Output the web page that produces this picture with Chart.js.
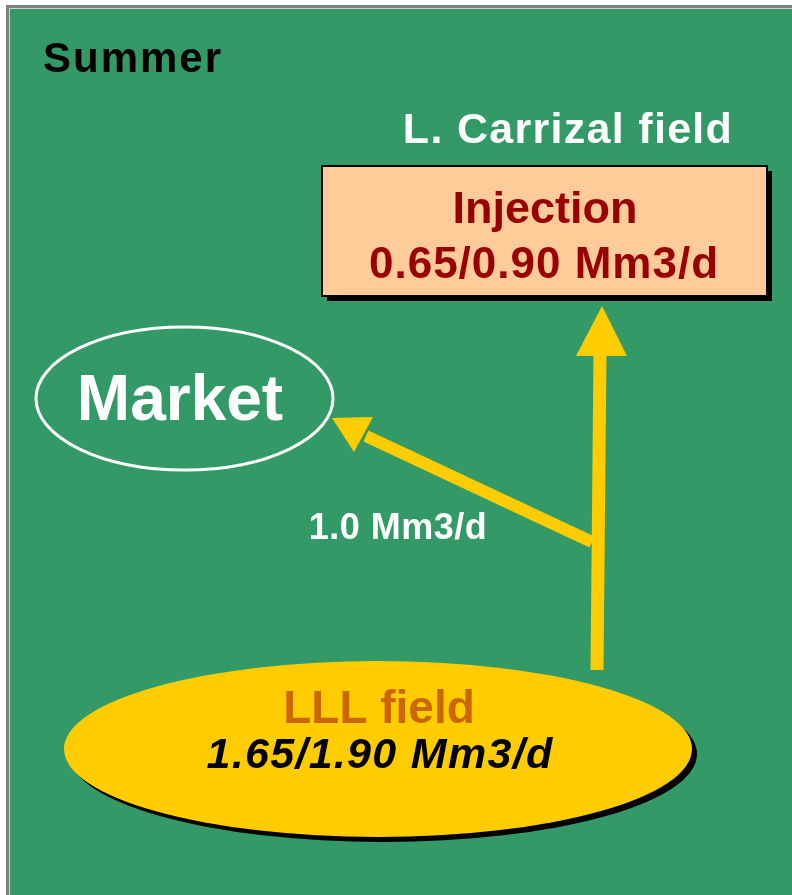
<!DOCTYPE html>
<html>
<head>
<meta charset="utf-8">
<script src="https://cdn.jsdelivr.net/npm/chart.js@4.4.0/dist/chart.umd.min.js"></script>
<style>
  html, body { margin: 0; padding: 0; background: #fff; }
  #flowChart { display: block; }
</style>
</head>
<body>
<canvas id="flowChart" width="792" height="895"></canvas>
<script>
const seasonName = 'Summer';
const targetField = 'L. Carrizal field';
const nodeNames = ['Market', 'LLL field', 'Injection'];
const productionRange = [1.65, 1.90];
const injectionRange = [0.65, 0.90];
const marketFlow = [1.0];
const flowUnit = 'Mm3/d';

// diagram layout in page units (x right, y down), mapped through hidden axes
const layout = {
    market: { cx: 184.5, cy: 398.5, rx: 148.5, ry: 71.5 },
    source: { cx: 378, cy: 749, rx: 314, ry: 88 },
    box: { x1: 322, y1: 166, x2: 767, y2: 296 },
    upShaft: [{ x: 597, y: 670 }, { x: 600, y: 352 }],
    leftShaft: [{ x: 592, y: 542 }, { x: 366, y: 436 }],
    upHead: [{ x: 602, y: 306 }, { x: 576, y: 356 }, { x: 627, y: 356 }],
    leftHead: [{ x: 332, y: 418 }, { x: 373, y: 417 }, { x: 354, y: 452 }]
};

const GREEN = '#339966';
const YELLOW = '#FFCC00';

document.addEventListener("DOMContentLoaded", function () {
    initFlowChart();
});

function rangeLabel(range) {
    return range.map(v => v.toFixed(2)).join('/') + ' ' + flowUnit;
}

function drawText(ctx, text, x, y, font, color, spacing) {
    ctx.save();
    ctx.font = font;
    ctx.fillStyle = color;
    ctx.textAlign = 'center';
    ctx.textBaseline = 'alphabetic';
    if (spacing) ctx.letterSpacing = spacing + 'px';
    ctx.fillText(text, x, y);
    ctx.restore();
}

const diagramPlugin = {
    id: 'diagram',
    beforeDraw(chart) {
        const ctx = chart.ctx;
        ctx.save();
        ctx.fillStyle = '#ffffff';
        ctx.fillRect(0, 0, chart.width, chart.height);
        ctx.fillStyle = '#808080';
        ctx.fillRect(6, 5, chart.width - 6, chart.height - 5);
        ctx.fillStyle = '#d0d0d0';
        ctx.fillRect(9, 8, chart.width - 9, chart.height - 8);
        ctx.fillStyle = GREEN;
        ctx.fillRect(10, 9, chart.width - 10, chart.height - 9);
        ctx.restore();
    },
    beforeDatasetsDraw(chart) {
        const ctx = chart.ctx;
        const px = v => chart.scales.x.getPixelForValue(v);
        const py = v => chart.scales.y.getPixelForValue(v);

        // market ellipse
        const m = layout.market;
        ctx.save();
        ctx.beginPath();
        ctx.ellipse(px(m.cx), py(m.cy), px(m.cx + m.rx) - px(m.cx), py(m.cy + m.ry) - py(m.cy), 0, 0, Math.PI * 2);
        ctx.strokeStyle = '#ffffff';
        ctx.lineWidth = 3;
        ctx.stroke();

        // source field ellipse with shadow
        const s = layout.source;
        const srx = px(s.cx + s.rx) - px(s.cx);
        const sry = py(s.cy + s.ry) - py(s.cy);
        ctx.beginPath();
        ctx.ellipse(px(s.cx) + 5, py(s.cy) + 5, srx, sry, 0, 0, Math.PI * 2);
        ctx.fillStyle = '#000000';
        ctx.fill();
        ctx.beginPath();
        ctx.ellipse(px(s.cx), py(s.cy), srx, sry, 0, 0, Math.PI * 2);
        ctx.fillStyle = YELLOW;
        ctx.fill();

        // injection box with shadow
        const b = layout.box;
        const bx = px(b.x1), by = py(b.y1);
        const bw = px(b.x2) - bx, bh = py(b.y2) - by;
        ctx.fillStyle = '#000000';
        ctx.fillRect(bx + 5, by + 5, bw, bh);
        ctx.fillStyle = '#FFCC99';
        ctx.fillRect(bx, by, bw, bh);
        ctx.strokeStyle = '#000000';
        ctx.lineWidth = 2;
        ctx.strokeRect(bx, by, bw, bh);
        ctx.restore();
    },
    afterDatasetsDraw(chart) {
        const ctx = chart.ctx;
        const px = v => chart.scales.x.getPixelForValue(v);
        const py = v => chart.scales.y.getPixelForValue(v);

        [layout.upHead, layout.leftHead].forEach(function (head) {
            ctx.beginPath();
            head.forEach(function (p, i) {
                if (i === 0) ctx.moveTo(px(p.x), py(p.y));
                else ctx.lineTo(px(p.x), py(p.y));
            });
            ctx.closePath();
            ctx.fillStyle = YELLOW;
            ctx.fill();
        });

        const bold = 'bold {s}px "Liberation Sans", Arial, sans-serif';
        const f = size => bold.replace('{s}', size);

        ctx.save();
        ctx.font = f(42);
        ctx.fillStyle = '#000000';
        ctx.letterSpacing = '2px';
        ctx.fillText(seasonName, 43, 72);
        ctx.restore();

        drawText(ctx, targetField, 568, 143, f(43), '#ffffff', 1.3);
        drawText(ctx, nodeNames[2], 545, 223, f(45), '#990000', 0);
        drawText(ctx, rangeLabel(injectionRange), 544, 278, f(44), '#990000', 1);
        drawText(ctx, nodeNames[0], 180, 420, f(64), '#ffffff', 0);
        drawText(ctx, marketFlow[0].toFixed(1) + ' ' + flowUnit, 398, 539, f(36), '#ffffff', 0.5);
        drawText(ctx, nodeNames[1], 379, 723, f(46), '#CC6600', 0);
        drawText(ctx, rangeLabel(productionRange), 380, 768, 'italic ' + f(43), '#000000', 1.3);
    }
};

function initFlowChart() {
    const ctx = document.getElementById('flowChart').getContext('2d');
    new Chart(ctx, {
        type: 'scatter',
        data: {
            datasets: [{
                data: layout.upShaft,
                showLine: true,
                borderColor: YELLOW,
                borderWidth: 13,
                borderCapStyle: 'butt',
                pointRadius: 0
            }, {
                data: layout.leftShaft,
                showLine: true,
                borderColor: YELLOW,
                borderWidth: 12,
                borderCapStyle: 'butt',
                pointRadius: 0
            }]
        },
        options: {
            responsive: false,
            animation: false,
            devicePixelRatio: 1,
            events: [],
            layout: { padding: 0 },
            plugins: {
                legend: { display: false },
                tooltip: { enabled: false }
            },
            scales: {
                x: { type: 'linear', min: 0, max: 792, display: false },
                y: { type: 'linear', min: 0, max: 895, reverse: true, display: false }
            }
        },
        plugins: [diagramPlugin]
    });
}
</script>
</body>
</html>
